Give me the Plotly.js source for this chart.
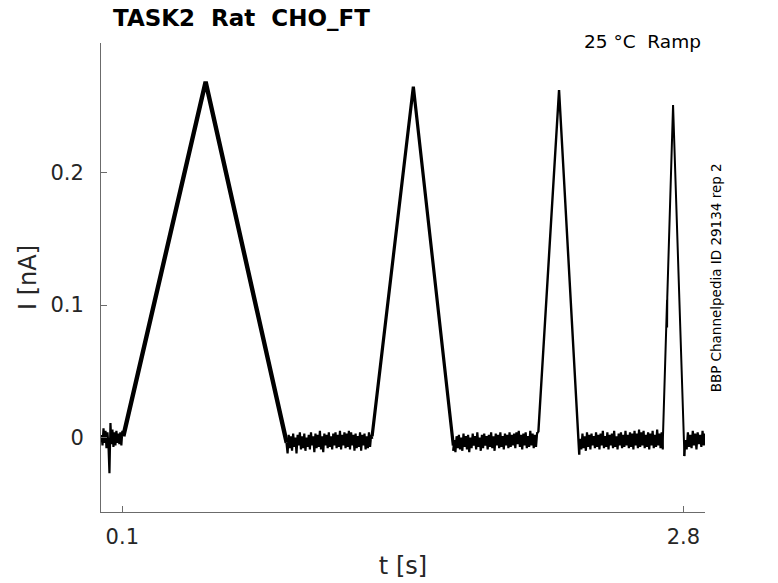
<!DOCTYPE html>
<html>
<head>
<meta charset="utf-8">
<script src="https://cdn.plot.ly/plotly-3.0.1.min.js"></script>
<style>html,body{margin:0;padding:0;background:#fff;}#chart{width:778px;height:583px;}</style>
</head>
<body>
<div id="chart"></div>
<script>
// ---- data (t in s, I in nA) ----
// baseline noise segments: [tStart, tEnd] and sampled current values
const baseSegA = [0.000, 0.105];
const baseValsA = [0.002,-0.006,0.007,-0.004,0.005,-0.008,0.004,-0.006,-0.027,0.011,-0.005,0.006,-0.007,0.004,-0.006,0.005,-0.004,0.003,-0.005,0.004,-0.006,0.005,0.001];
const baseSegB = [0.890, 1.303];
const baseValsB = [-0.004,-0.012,0.002,-0.008,0.001,-0.010,0.003,-0.007,0.000,-0.012,0.002,-0.006,0.004,-0.009,0.001,-0.008,0.003,-0.010,0.000,-0.007,0.002,-0.009,0.004,-0.006,0.001,-0.011,0.003,-0.008,0.002,-0.007,0.005,-0.009,0.001,-0.011,0.003,-0.006,0.002,-0.008,0.004,-0.007,0.001,-0.009,0.003,-0.006,0.004,-0.008,0.002,-0.007,0.005,-0.009,0.002,-0.006,0.004,-0.008,0.003,-0.007,0.005,-0.009,0.004,-0.006,0.002,-0.010,0.003,-0.008,0.001,-0.007,0.004,-0.010,0.002,-0.006,0.003,-0.009,0.001,-0.008,0.004,-0.007,0.002,-0.001];
const baseSegC = [1.692, 2.102];
const baseValsC = [-0.010,-0.002,-0.011,0.001,-0.008,0.002,-0.009,0.000,-0.010,0.003,-0.007,0.001,-0.009,0.002,-0.011,0.000,-0.008,0.003,-0.006,0.001,-0.009,0.004,-0.007,0.000,-0.010,0.002,-0.008,0.003,-0.006,0.001,-0.009,0.002,-0.007,0.004,-0.008,0.001,-0.010,0.003,-0.006,0.002,-0.008,0.004,-0.007,0.001,-0.009,0.003,-0.006,0.002,-0.008,0.004,-0.007,0.002,-0.006,0.003,-0.008,0.004,-0.005,0.005,-0.007,0.002,-0.009,0.003,-0.006,0.004,-0.008,0.001,-0.007,0.005,-0.006,0.003,-0.008,0.002,-0.007,0.004,0.003];
const baseSegD = [2.298, 2.701];
const baseValsD = [-0.012,-0.001,-0.009,0.003,-0.008,0.001,-0.010,0.004,-0.007,0.002,-0.009,0.003,-0.006,0.001,-0.008,0.004,-0.007,0.002,-0.009,0.003,-0.006,0.005,-0.008,0.001,-0.007,0.004,-0.009,0.002,-0.006,0.003,-0.008,0.005,-0.007,0.001,-0.009,0.003,-0.006,0.004,-0.008,0.002,-0.007,0.005,-0.006,0.002,-0.008,0.004,-0.007,0.003,-0.009,0.005,-0.006,0.003,-0.008,0.006,-0.007,0.004,-0.006,0.005,-0.008,0.002,-0.007,0.004,-0.009,0.003,-0.006,0.005,-0.008,0.002,-0.007,0.006,-0.006,0.003,-0.008,0.004,-0.009];
const baseSegE = [2.804, 2.904];
const baseValsE = [-0.014,-0.002,-0.009,0.004,-0.007,0.002,-0.008,0.005,-0.006,0.003,-0.009,0.004,-0.005,0.002,-0.007,0.005,-0.006,0.003];

// ramp vertices
const ramp1T = [0.105, 0.501, 0.891];
const ramp1I = [0.001, 0.2686, -0.004];
const ramp2T = [1.302, 1.5005, 1.693];
const ramp2I = [0.001, 0.2648, -0.006];
const ramp3T = [2.102, 2.2017, 2.299];
const ramp3I = [0.004, 0.2623, -0.013];
const ramp4T = [2.700, 2.7215, 2.7216, 2.7225, 2.7503, 2.805];
const ramp4I = [-0.008, 0.104, 0.083, 0.106, 0.251, -0.014];

// axes
const xTickVals = [0.1, 2.8];
const xTickText = ['0.1', '2.8'];
const yTickVals = [0, 0.1, 0.2];
const yTickText = ['0', '0.1', '0.2'];
const xRange = [-0.0025, 2.904];
const yRange = [-0.0562, 0.2978];

// ---- build traces ----
function sampled(seg, vals) {
  const n = vals.length;
  const t = vals.map((v, i) => seg[0] + (seg[1] - seg[0]) * i / (n - 1));
  return {t: t, v: vals};
}
const segs = [[baseSegA, baseValsA], [baseSegB, baseValsB], [baseSegC, baseValsC], [baseSegD, baseValsD], [baseSegE, baseValsE]];
const traces = [];
segs.forEach(s => {
  const d = sampled(s[0], s[1]);
  traces.push({x: d.t, y: d.v, type: 'scatter', mode: 'lines', line: {color: '#000', width: 2.2}, hoverinfo: 'skip', showlegend: false});
});
[[ramp1T, ramp1I, 4.4], [ramp2T, ramp2I, 3.2], [ramp3T, ramp3I, 2.4], [ramp4T, ramp4I, 2]].forEach(r => {
  traces.push({x: r[0], y: r[1], type: 'scatter', mode: 'lines', line: {color: '#000', width: r[2]}, hoverinfo: 'skip', showlegend: false});
});

const FONT = 'DejaVu Sans, sans-serif';
const layout = {
  width: 778, height: 583,
  margin: {l: 101, r: 73, t: 43, b: 71},
  paper_bgcolor: '#fff', plot_bgcolor: '#fff',
  showlegend: false,
  xaxis: {
    range: xRange, showgrid: false, zeroline: false,
    showline: true, linecolor: '#6b6b6b', linewidth: 1,
    ticks: 'inside', ticklen: 6, tickcolor: '#6b6b6b', tickwidth: 1,
    tickvals: xTickVals, ticktext: xTickText,
    tickfont: {family: FONT, size: 21, color: '#262626'},
    ticklabelstandoff: 6,
    title: {text: 't [s]', font: {family: FONT, size: 24, color: '#262626'}, standoff: 8}
  },
  yaxis: {
    range: yRange, showgrid: false, zeroline: false,
    showline: true, linecolor: '#6b6b6b', linewidth: 1,
    ticks: 'inside', ticklen: 6, tickcolor: '#6b6b6b', tickwidth: 1,
    tickvals: yTickVals, ticktext: yTickText,
    tickfont: {family: FONT, size: 21, color: '#262626'},
    ticklabelstandoff: 12,
    title: {text: 'I [nA]', font: {family: FONT, size: 24, color: '#262626'}, standoff: 6}
  },
  annotations: [
    {text: '<b>TASK2  Rat  CHO_FT</b>', xref: 'paper', yref: 'paper', x: 0.017, y: 1.053,
     xanchor: 'left', yanchor: 'middle', showarrow: false, font: {family: FONT, size: 23, color: '#000'}},
    {text: '25 °C  Ramp', xref: 'paper', yref: 'paper', x: 0.9967, y: 1.004,
     xanchor: 'right', yanchor: 'middle', showarrow: false, font: {family: FONT, size: 18.5, color: '#000'}},
    {text: 'BBP Channelpedia ID 29134 rep 2', xref: 'paper', yref: 'paper', x: 1.018, y: 0.5,
     xanchor: 'center', yanchor: 'middle', textangle: -90, showarrow: false, font: {family: FONT, size: 13.5, color: '#000'}}
  ]
};
Plotly.newPlot('chart', traces, layout, {staticPlot: true, displayModeBar: false});
</script>
</body>
</html>
